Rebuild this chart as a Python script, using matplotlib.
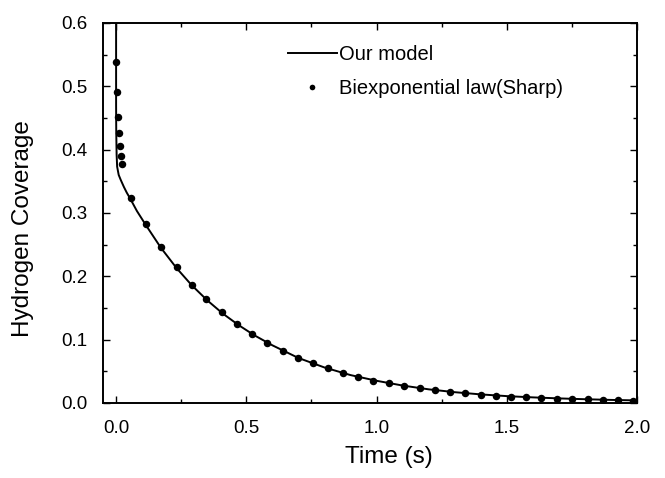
import matplotlib
matplotlib.use("Agg")
import matplotlib.pyplot as plt
from matplotlib.ticker import MultipleLocator

plt.rcParams["font.family"] = ["Liberation Sans", "DejaVu Sans"]

# ── Data ──────────────────────────────────────────────────────────────────────
# model curve
model_t = [0.0, 0.0, 0.0005, 0.002, 0.004, 0.010, 0.018, 0.030, 0.041, 0.055,
           0.080, 0.114, 0.172, 0.232, 0.290, 0.350, 0.410, 0.470, 0.530, 0.600,
           0.700, 0.800, 0.900, 1.000, 1.100, 1.200, 1.300, 1.400, 1.500, 1.600,
           1.700, 1.800, 1.900, 2.000]
model_h = [0.600, 0.470, 0.430, 0.392, 0.373, 0.360, 0.352, 0.341, 0.332, 0.322,
           0.303, 0.281, 0.245, 0.213, 0.186, 0.162, 0.141, 0.123, 0.107, 0.091,
           0.071, 0.056, 0.044, 0.035, 0.0275, 0.0215, 0.017, 0.0135, 0.0108, 0.0088,
           0.0072, 0.0059, 0.0048, 0.0040]

# biexponential law (Sharp) points
sharp_t = [0.001, 0.005, 0.009, 0.013, 0.015, 0.018, 0.022,
           0.0565, 0.114, 0.172, 0.232, 0.290, 0.347, 0.406, 0.464, 0.522, 0.581,
           0.640, 0.697, 0.755, 0.813, 0.872, 0.928, 0.987, 1.047, 1.105, 1.165,
           1.223, 1.281, 1.340, 1.400, 1.458, 1.515, 1.573, 1.633, 1.692, 1.750,
           1.810, 1.868, 1.926, 1.983]
sharp_h = [0.539, 0.4915, 0.452, 0.427, 0.406, 0.390, 0.377,
           0.324, 0.282, 0.246, 0.214, 0.187, 0.164, 0.143, 0.124, 0.109, 0.095,
           0.082, 0.071, 0.063, 0.055, 0.0474, 0.0415, 0.0352, 0.031, 0.0268, 0.0232,
           0.020, 0.0174, 0.0153, 0.0131, 0.0115, 0.010, 0.009, 0.008, 0.007, 0.006,
           0.0057, 0.005, 0.0043, 0.0038]

# ── Plot ──────────────────────────────────────────────────────────────────────
fig = plt.figure(figsize=(6.65, 4.78), dpi=100)
ax = fig.add_axes([0.155, 0.157, 0.803, 0.795])

ax.plot(model_t, model_h, color="black", linewidth=1.4, label="Our model")
ax.plot(sharp_t, sharp_h, "o", color="black", markersize=5.4, markeredgewidth=0,
        label="Biexponential law(Sharp)")

ax.set_xlim(-0.05, 2.0)
ax.set_ylim(0.0, 0.6)
ax.xaxis.set_major_locator(MultipleLocator(0.5))
ax.xaxis.set_minor_locator(MultipleLocator(0.25))
ax.yaxis.set_major_locator(MultipleLocator(0.1))
ax.yaxis.set_minor_locator(MultipleLocator(0.05))
ax.tick_params(which="both", direction="in", top=True, right=True, width=1.0,
               labelsize=13.5)
ax.tick_params(axis="x", which="major", pad=12)
ax.tick_params(axis="y", which="major", pad=11)
ax.tick_params(which="major", length=5)
ax.tick_params(which="minor", length=3)
for sp in ax.spines.values():
    sp.set_linewidth(1.4)

ax.set_xlabel("Time (s)", fontsize=17.5)
ax.set_ylabel("Hydrogen Coverage", fontsize=17.5)
ax.xaxis.set_label_coords(0.536, -0.113)
ax.yaxis.set_label_coords(-0.13, 0.46)

ax.legend(loc="upper left", bbox_to_anchor=(0.312, 0.99), frameon=False,
          fontsize=14.5, handlelength=2.45, handletextpad=0.1, labelspacing=0.75,
          markerscale=0.75)

fig.savefig("out.png", dpi=100)
